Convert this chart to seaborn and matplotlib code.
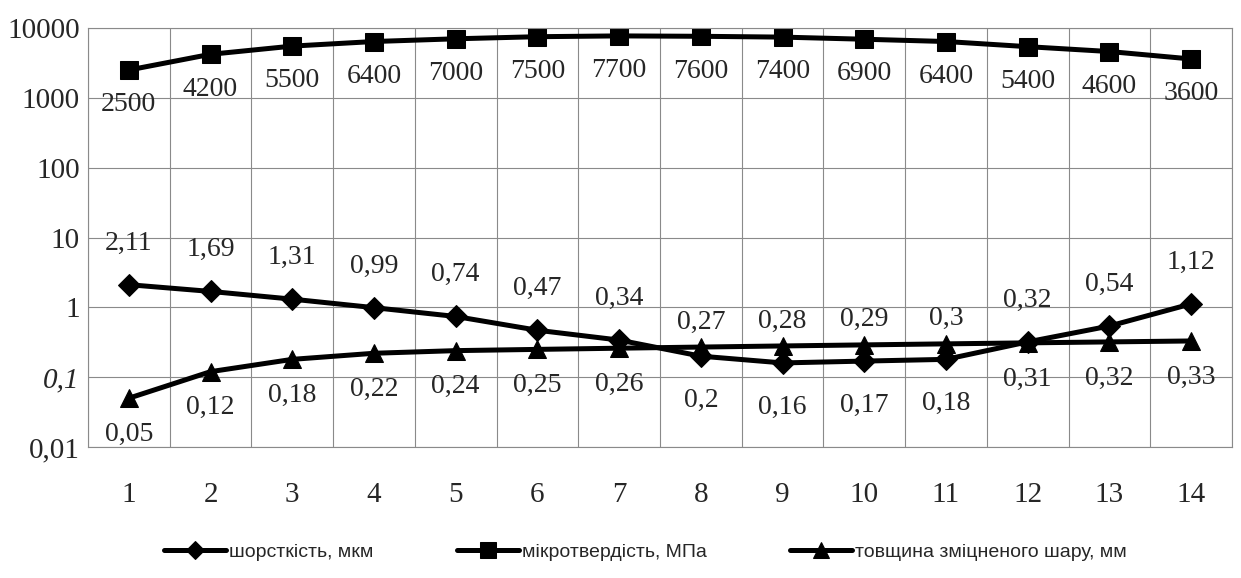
import matplotlib
matplotlib.use('Agg')
import pandas as pd
import seaborn as sns
import matplotlib.pyplot as plt
from matplotlib.ticker import NullLocator, FixedLocator

# data
points = list(range(1, 15))
roughness = [2.11, 1.69, 1.31, 0.99, 0.74, 0.47, 0.34, 0.2, 0.16, 0.17, 0.18, 0.32, 0.54, 1.12]
microhardness = [2500, 4200, 5500, 6400, 7000, 7500, 7700, 7600, 7400, 6900, 6400, 5400, 4600, 3600]
thickness = [0.05, 0.12, 0.18, 0.22, 0.24, 0.25, 0.26, 0.27, 0.28, 0.29, 0.3, 0.31, 0.32, 0.33]
names = ['шорсткість, мкм', 'мікротвердість, МПа', 'товщина зміцненого шару, мм']
y_ticks = [0.01, 0.1, 1, 10, 100, 1000, 10000]
y_tick_labels = ['0,01', '0,1', '1', '10', '100', '1000', '10000']

# label placement: 1 = above the point, -1 = below
rough_side = [1, 1, 1, 1, 1, 1, 1, -1, -1, -1, -1, 1, 1, 1]
thick_side = [-1, -1, -1, -1, -1, -1, -1, 1, 1, 1, 1, -1, -1, -1]

sns.set_style('white')
plt.rcParams['font.family'] = ['Liberation Serif', 'DejaVu Serif']

fig = plt.figure(figsize=(12.41, 5.78), dpi=100)
ax = fig.add_axes([0.0709, 0.2266, 0.9218, 0.7250])

df = pd.DataFrame({'x': points, 'r': roughness, 'm': microhardness, 't': thickness})

sns.lineplot(data=df, x='x', y='r', ax=ax, color='black', linewidth=3.6,
             marker='D', markersize=11, markeredgecolor='black', label=names[0])
sns.lineplot(data=df, x='x', y='m', ax=ax, color='black', linewidth=3.6,
             marker='s', markersize=13, markeredgecolor='black', label=names[1])
sns.lineplot(data=df, x='x', y='t', ax=ax, color='black', linewidth=3.6,
             marker='^', markersize=13, markeredgecolor='black', label=names[2])

ax.set_yscale('log')
ax.set_ylim(0.01, 10000)
ax.set_xlim(0.5, 14.5)
ax.yaxis.set_major_locator(FixedLocator(y_ticks))
ax.yaxis.set_minor_locator(NullLocator())
ax.set_yticklabels(y_tick_labels)
for t in ax.get_yticklabels():
    if t.get_text() == '0,1':
        t.set_style('italic')
ax.set_xticks(points)
ax.set_xticklabels([str(p) for p in points])
ax.set_xticks([p - 0.5 for p in points] + [14.5], minor=True)
ax.tick_params(axis='both', which='both', length=0, labelsize=21)
ax.tick_params(axis='x', pad=25)
ax.tick_params(axis='y', pad=6)
ax.grid(False)
ax.grid(True, axis='y', which='major', color='#8a8a8a', linewidth=0.8)
ax.grid(True, axis='x', which='minor', color='#8a8a8a', linewidth=0.8)
for s in ax.spines.values():
    s.set_color('#8a8a8a')
    s.set_linewidth(0.8)
ax.set_xlabel(None)
ax.set_ylabel(None)


def fmt(v):
    return f'{v:g}'.replace('.', ',')


for x, v in zip(points, microhardness):
    ax.annotate(fmt(v), (x, v), xytext=(0, -25), textcoords='offset points',
                ha='center', va='center', fontsize=20)
for x, v, s in zip(points, roughness, rough_side):
    ax.annotate(fmt(v), (x, v), xytext=(0, 30 if s > 0 else -32), textcoords='offset points',
                ha='center', va='center', fontsize=20)
for x, v, s in zip(points, thickness, thick_side):
    ax.annotate(fmt(v), (x, v), xytext=(0, 18 if s > 0 else -26), textcoords='offset points',
                ha='center', va='center', fontsize=20)

handles, labels = ax.get_legend_handles_labels()
ax.legend_.remove()
fig.legend(handles, labels, loc='center', bbox_to_anchor=(0.52, 0.045), ncol=3,
           frameon=False, handlelength=3.2, handletextpad=0.15, columnspacing=4.3,
           markerscale=0.85, prop={'family': ['Liberation Sans', 'DejaVu Sans'], 'size': 14})

fig.savefig('out.png', dpi=100)
